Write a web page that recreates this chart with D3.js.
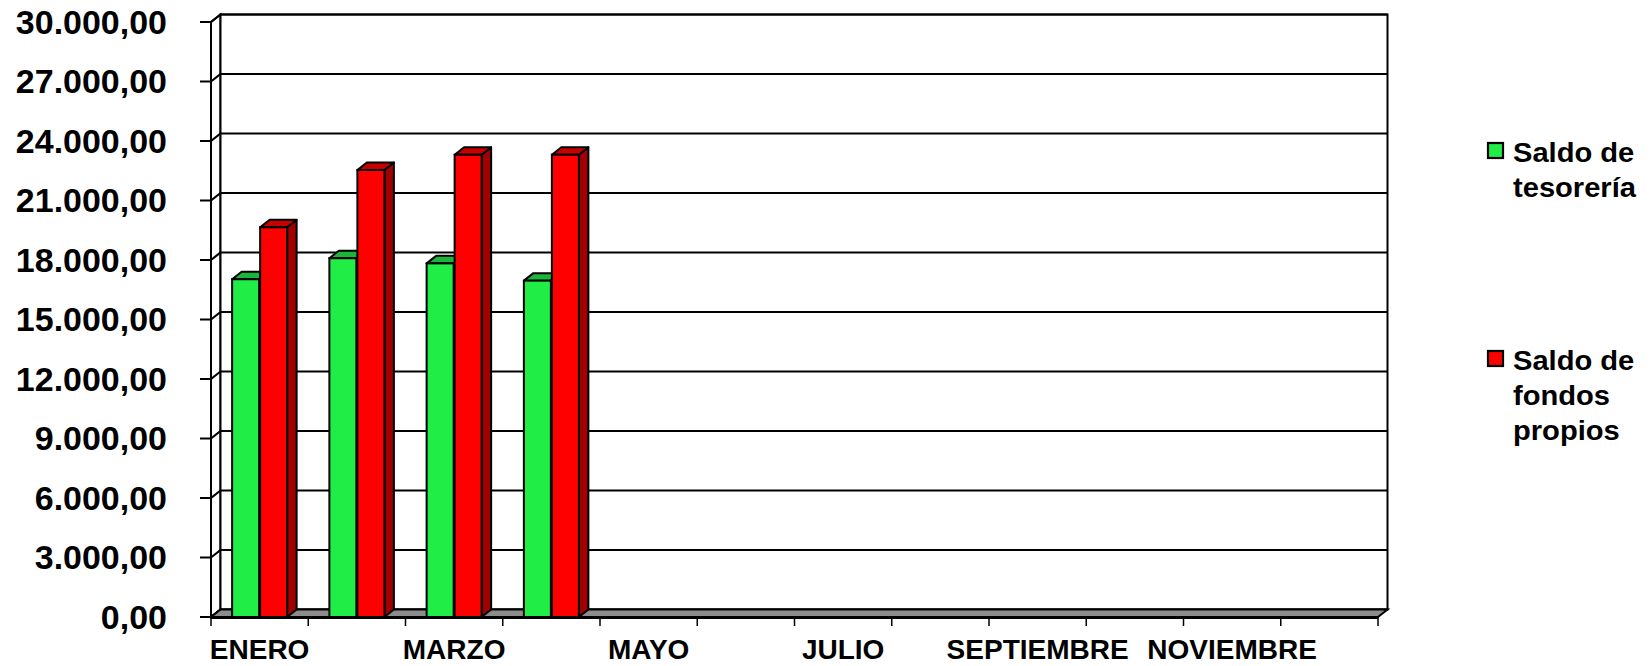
<!DOCTYPE html>
<html>
<head>
<meta charset="utf-8">
<script src="https://cdn.jsdelivr.net/npm/d3@7"></script>
<style>
  body { margin: 0; background: #fff; }
  text { font-family: "Liberation Sans", Arial, sans-serif; font-weight: bold; fill: #000; }
</style>
</head>
<body>
<script>
// data
var months = ["ENERO", "FEBRERO", "MARZO", "ABRIL", "MAYO", "JUNIO", "JULIO", "AGOSTO", "SEPTIEMBRE", "OCTUBRE", "NOVIEMBRE", "DICIEMBRE"];
var shownLabels = ["ENERO", "MARZO", "MAYO", "JULIO", "SEPTIEMBRE", "NOVIEMBRE"];
var tesoreria = [17030, 18090, 17830, 16960];
var fondosPropios = [19650, 22540, 23310, 23310];
var yTicks = [0, 3000, 6000, 9000, 12000, 15000, 18000, 21000, 24000, 27000, 30000];
var seriesNames = [["Saldo de", "tesorería"], ["Saldo de", "fondos", "propios"]];

var width = 1652, height = 666;
var depth = {dx: 9.5, dy: -7.5};
var barW = 27;

var faces = [
    {front: "#20ee46", top: "#1cb53a", side: "#14902c"},
    {front: "#ff0000", top: "#c80000", side: "#a00000"}
];

var x = d3.scaleBand().domain(months).range([211, 1378]);
var y = d3.scaleLinear().domain([0, 30000]).range([617, 22]);

var locale = d3.formatLocale({decimal: ",", thousands: ".", grouping: [3], currency: ["", ""]});
var fmt = locale.format(",.2f");

var svg = d3.select("body").append("svg")
    .attr("width", width)
    .attr("height", height);

var x0 = x.range()[0], x1 = x.range()[1];
var y0 = y(0), yTop = y(30000);

// left wall
svg.append("path")
    .attr("d", "M" + x0 + "," + y0 + "L" + x0 + "," + yTop + "L" + (x0 + depth.dx) + "," + (yTop + depth.dy) + "L" + (x0 + depth.dx) + "," + (y0 + depth.dy) + "Z")
    .style("fill", "#fff").style("stroke", "#000").style("stroke-width", 2);

// back wall
svg.append("rect")
    .attr("x", x0 + depth.dx).attr("y", yTop + depth.dy)
    .attr("width", x1 - x0).attr("height", y0 - yTop)
    .style("fill", "#fff").style("stroke", "#000").style("stroke-width", 2);

// gridlines: tick, diagonal on left wall, line across back wall
var grid = svg.append("g");
yTicks.forEach(function (t) {
    var yy = y(t);
    grid.append("path")
        .attr("d", "M" + (x0 - 11) + "," + yy + "L" + x0 + "," + yy + "L" + (x0 + depth.dx) + "," + (yy + depth.dy) + "L" + (x1 + depth.dx) + "," + (yy + depth.dy))
        .style("fill", "none").style("stroke", "#000").style("stroke-width", 2.2);
});

// front axis line
svg.append("line")
    .attr("x1", x0).attr("x2", x0).attr("y1", yTop).attr("y2", y0)
    .style("stroke", "#000").style("stroke-width", 2);

// floor
svg.append("path")
    .attr("d", "M" + x0 + "," + y0 + "L" + x1 + "," + y0 + "L" + (x1 + depth.dx) + "," + (y0 + depth.dy) + "L" + (x0 + depth.dx) + "," + (y0 + depth.dy) + "Z")
    .style("fill", "#8c8c8c").style("stroke", "#000").style("stroke-width", 2);
svg.append("line")
    .attr("x1", x0).attr("x2", x1).attr("y1", y0 + 0.5).attr("y2", y0 + 0.5)
    .style("stroke", "#000").style("stroke-width", 3);

// y labels
svg.append("g").selectAll("text")
    .data(yTicks)
    .enter().append("text")
    .attr("transform", function (d) { return "translate(167," + (y(d) + 11.5) + ") scale(1.03,1)"; })
    .attr("text-anchor", "end")
    .style("font-size", "33px")
    .text(function (d) { return fmt(d); });

// x ticks
var xTickPos = months.map(function (m) { return x(m); }).concat([x1]);
svg.append("g").selectAll("line")
    .data(xTickPos)
    .enter().append("line")
    .attr("x1", function (d) { return d; }).attr("x2", function (d) { return d; })
    .attr("y1", y0).attr("y2", y0 + 9)
    .style("stroke", "#000").style("stroke-width", 1.5);

// x labels
svg.append("g").selectAll("text")
    .data(shownLabels)
    .enter().append("text")
    .attr("x", function (d) { return x(d) + x.bandwidth() / 2; })
    .attr("y", 659)
    .attr("text-anchor", "middle")
    .style("font-size", "28px")
    .text(function (d) { return d; });

// bars
function bar3d(g, left, val, c) {
    var top = y(val), right = left + barW;
    g.append("path")
        .attr("d", "M" + right + "," + y0 + "L" + (right + depth.dx) + "," + (y0 + depth.dy) + "L" + (right + depth.dx) + "," + (top + depth.dy) + "L" + right + "," + top + "Z")
        .style("fill", c.side).style("stroke", "#000").style("stroke-width", 2).style("stroke-linejoin", "round");
    g.append("path")
        .attr("d", "M" + left + "," + top + "L" + right + "," + top + "L" + (right + depth.dx) + "," + (top + depth.dy) + "L" + (left + depth.dx) + "," + (top + depth.dy) + "Z")
        .style("fill", c.top).style("stroke", "#000").style("stroke-width", 2).style("stroke-linejoin", "round");
    g.append("rect")
        .attr("x", left).attr("y", top)
        .attr("width", barW).attr("height", y0 - top)
        .style("fill", c.front).style("stroke", "#000").style("stroke-width", 2);
}

var bars = svg.append("g");
tesoreria.forEach(function (v, i) {
    var cx = x(months[i]) + x.bandwidth() / 2;
    bar3d(bars, cx - barW - 0.5, v, faces[0]);
    bar3d(bars, cx + 0.5, fondosPropios[i], faces[1]);
});

// legend
var legendY = [143, 351];
var legend = svg.append("g");
seriesNames.forEach(function (lines, i) {
    legend.append("rect")
        .attr("x", 1488).attr("y", legendY[i])
        .attr("width", 15).attr("height", 15)
        .style("fill", faces[i].front).style("stroke", "#000").style("stroke-width", 2.2);
    lines.forEach(function (t, j) {
        legend.append("text")
            .attr("transform", "translate(1513," + (legendY[i] + 19 + j * 35) + ") scale(1.04,1)")
            .style("font-size", "28px")
            .text(t);
    });
});
</script>
</body>
</html>
